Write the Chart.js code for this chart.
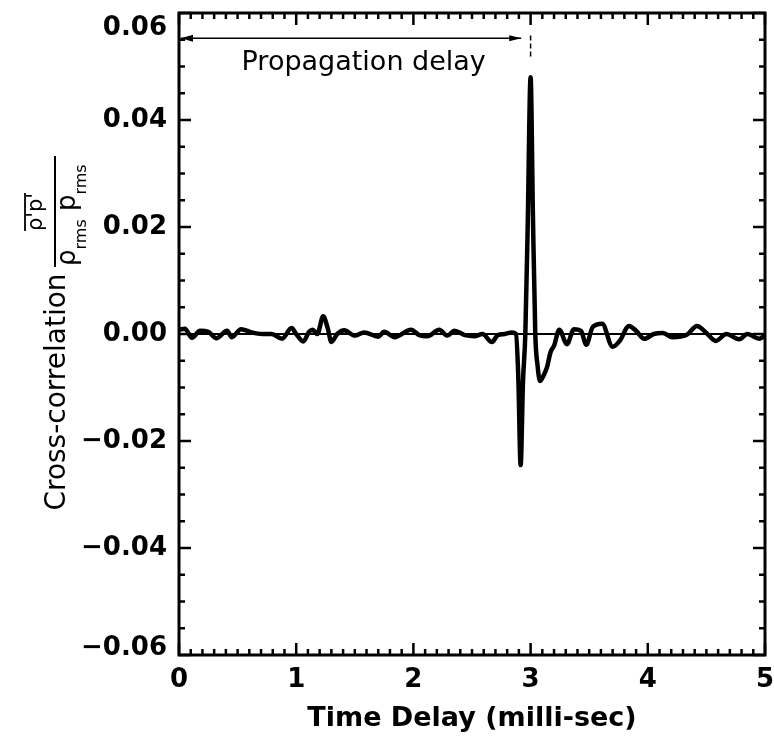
<!DOCTYPE html>
<html>
<head>
<meta charset="utf-8">
<script src="https://cdn.jsdelivr.net/npm/chart.js@4.4.1/dist/chart.umd.min.js"></script>
<style>
  html, body { margin: 0; padding: 0; background: #fff; }
  #wrap { width: 774px; height: 745px; position: relative; }
</style>
</head>
<body>
<div id="wrap"><canvas id="myChart"></canvas></div>
<script>
// time delay (milli-sec) vs normalised cross-correlation
let delays = [
  0.00, 0.05, 0.11, 0.18, 0.25, 0.32, 0.41, 0.45, 0.53, 0.62,
  0.71, 0.79, 0.88, 0.96, 1.00, 1.06, 1.11, 1.14, 1.18, 1.23,
  1.27, 1.30, 1.35, 1.41, 1.50, 1.58, 1.70, 1.75, 1.84, 1.98,
  2.05, 2.12, 2.22, 2.29, 2.35, 2.44, 2.52, 2.59, 2.67, 2.72,
  2.78, 2.84, 2.875, 2.895, 2.915, 2.935, 2.955, 2.975, 3.00, 3.02,
  3.04, 3.06, 3.08, 3.11, 3.14, 3.17, 3.20, 3.245, 3.31, 3.37,
  3.43, 3.475, 3.53, 3.61, 3.70, 3.76, 3.84, 3.90, 3.97, 4.05,
  4.13, 4.21, 4.33, 4.42, 4.50, 4.58, 4.67, 4.78, 4.85, 4.95,
  5.00
];
let corr = [
  0.0008, 0.0010, -0.0007, 0.0006, 0.0004, -0.0008, 0.0006, -0.0006, 0.0009, 0.0003,
  0.0000, 0.0000, -0.0009, 0.0011, 0.0000, -0.0014, 0.0004, 0.0008, 0.0000, 0.0033,
  0.0010, -0.0015, 0.0000, 0.0007, -0.0003, 0.0003, -0.0005, 0.0004, -0.0006, 0.0008,
  -0.0002, -0.0004, 0.0008, -0.0003, 0.0006, -0.0002, -0.0004, 0.0000, -0.0015, -0.0002,
  0.0000, 0.0003, 0.0000, -0.0080, -0.0245, -0.0090, 0.0000, 0.0200, 0.0480, 0.0220,
  0.0000, -0.0060, -0.0088, -0.0078, -0.0062, -0.0034, -0.0022, 0.0008, -0.0019, 0.0009,
  0.0006, -0.0020, 0.0013, 0.0019, -0.0024, -0.0013, 0.0015, 0.0006, -0.0009, 0.0000,
  0.0002, -0.0006, -0.0002, 0.0015, 0.0002, -0.0013, 0.0000, -0.0010, 0.0000, -0.0009,
  -0.0003
];

let xTickValues = [0, 1, 2, 3, 4, 5];
let yTickValues = [-0.06, -0.04, -0.02, 0.00, 0.02, 0.04, 0.06];

// propagation delay marker (x from/to in ms, y level)
let delayFrom = 0;
let delayTo = 2.92;
let delayLevel = 0.0553;
let delayMark = 3.0;

const FONT = '"DejaVu Sans", sans-serif';

//draws the frame, the inward ticks, the arrow and the y label
const decorations = {
  id: 'decorations',
  afterDatasetsDraw(chart) {
    const ctx = chart.ctx;
    const a = chart.chartArea;
    const x = chart.scales.x;
    const y = chart.scales.y;
    ctx.save();
    ctx.strokeStyle = '#000';
    ctx.fillStyle = '#000';

    // ticks on all four sides, pointing in
    ctx.lineWidth = 2.5;
    ctx.beginPath();
    for (let i = 0; i <= 50; i++) {
      const px = x.getPixelForValue(i / 10);
      const len = (i % 10 === 0) ? 12 : 6;
      ctx.moveTo(px, a.bottom); ctx.lineTo(px, a.bottom - len);
      ctx.moveTo(px, a.top); ctx.lineTo(px, a.top + len);
    }
    for (let i = -12; i <= 12; i++) {
      const py = y.getPixelForValue(i * 0.005);
      const len = (i % 4 === 0) ? 12 : 6;
      ctx.moveTo(a.left, py); ctx.lineTo(a.left + len, py);
      ctx.moveTo(a.right, py); ctx.lineTo(a.right - len, py);
    }
    ctx.stroke();

    // frame
    ctx.lineWidth = 3;
    ctx.strokeRect(a.left, a.top, a.right - a.left, a.bottom - a.top);

    // propagation delay arrow
    const ay = y.getPixelForValue(delayLevel);
    const ax0 = x.getPixelForValue(delayFrom) + 2;
    const ax1 = x.getPixelForValue(delayTo);
    ctx.lineWidth = 1.5;
    ctx.beginPath();
    ctx.moveTo(ax0, ay); ctx.lineTo(ax1, ay);
    ctx.stroke();
    ctx.beginPath();
    ctx.moveTo(ax0, ay); ctx.lineTo(ax0 + 12, ay - 3.5); ctx.lineTo(ax0 + 12, ay + 3.5); ctx.closePath();
    ctx.moveTo(ax1, ay); ctx.lineTo(ax1 - 12, ay - 3); ctx.lineTo(ax1 - 12, ay + 3); ctx.closePath();
    ctx.fill();

    // little dashed marker at the arrow end
    const mx = x.getPixelForValue(delayMark);
    ctx.setLineDash([5, 3]);
    ctx.beginPath();
    ctx.moveTo(mx, y.getPixelForValue(0.0558));
    ctx.lineTo(mx, y.getPixelForValue(0.0518));
    ctx.stroke();
    ctx.setLineDash([]);

    ctx.font = '27px ' + FONT;
    ctx.textAlign = 'center';
    ctx.textBaseline = 'alphabetic';
    ctx.fillText('Propagation delay', x.getPixelForValue(1.576), y.getPixelForValue(0.0493));

    // y axis label, rotated
    const cy = (a.top + a.bottom) / 2;
    ctx.translate(0, cy);
    ctx.rotate(-Math.PI / 2);
    ctx.font = '28px ' + FONT;
    ctx.textAlign = 'center';
    ctx.fillText('Cross-correlation', -58, 65);

    // fraction  rho'p' / rho_rms p_rms
    ctx.lineWidth = 2;
    ctx.beginPath();
    ctx.moveTo(67, 55); ctx.lineTo(178, 55);
    ctx.stroke();

    ctx.font = '21px ' + FONT;
    ctx.textAlign = 'left';
    const num = "\u03C1'p'";
    const nw = ctx.measureText(num).width;
    const n0 = 122 - nw / 2;
    ctx.fillText(num, n0, 42);
    ctx.lineWidth = 1.8;
    ctx.beginPath();
    ctx.moveTo(n0, 25); ctx.lineTo(n0 + nw, 25);
    ctx.stroke();

    let u = 68;
    const parts = [['\u03C1', 26, 75], ['rms', 16, 86], [' ', 26, 75], ['p', 26, 75], ['rms', 16, 86]];
    for (const p of parts) {
      ctx.font = p[1] + 'px ' + FONT;
      ctx.fillText(p[0], u, p[2]);
      u += ctx.measureText(p[0]).width;
    }
    ctx.restore();
  }
};

let data = {
  datasets: [{
    label: 'cross-correlation',
    data: delays.map((d, i) => ({ x: d, y: corr[i] })),
    borderColor: '#000',
    borderWidth: 4.5,
    pointRadius: 0,
    cubicInterpolationMode: 'monotone',
    fill: false
  }, {
    label: 'zero',
    data: [{ x: 0, y: 0 }, { x: 5, y: 0 }],
    borderColor: '#000',
    borderWidth: 2,
    pointRadius: 0,
    fill: false
  }]
};

// top and bottom labels sit a little inside the frame, like the original
function yTickFont(c) {
  const v = c.tick ? c.tick.value : 0;
  let lh = 1.2;
  if (Math.abs(v - 0.06) < 1e-9) lh = 30 / 26;
  if (Math.abs(v + 0.06) < 1e-9) lh = 14 / 26;
  return { family: FONT, size: 26, weight: 'bold', lineHeight: lh };
}

let config = {
  type: 'line',
  data: data,
  options: {
    responsive: true,
    maintainAspectRatio: false,
    animation: false,
    layout: { padding: { top: 13, right: 9, bottom: 0, left: 0 } },
    plugins: { legend: { display: false }, tooltip: { enabled: false } },
    scales: {
      x: {
        type: 'linear',
        min: 0, max: 5,
        grid: { display: false, drawTicks: false },
        border: { display: false },
        afterBuildTicks: s => { s.ticks = xTickValues.map(v => ({ value: v })); },
        afterFit: s => { s.height = 90; s.paddingLeft = 0; s.paddingRight = 0; },
        ticks: {
          color: '#000',
          padding: 10,
          maxRotation: 0,
          font: { family: FONT, size: 26, weight: 'bold' },
          callback: v => String(v)
        },
        title: {
          display: true,
          text: 'Time Delay (milli-sec)',
          color: '#000',
          font: { family: FONT, size: 27, weight: 'bold' },
          padding: { top: 0, bottom: 10 }
        }
      },
      y: {
        type: 'linear',
        min: -0.06, max: 0.06,
        grid: { display: false, drawTicks: false },
        border: { display: false },
        afterBuildTicks: s => { s.ticks = yTickValues.map(v => ({ value: v })); },
        afterFit: s => { s.width = 179; s.paddingTop = 0; s.paddingBottom = 0; },
        ticks: {
          color: '#000',
          padding: 12,
          font: yTickFont,
          callback: v => {
            if (Math.abs(v) < 1e-9) return '0.00';
            const s = (v < 0 ? '\u2212' : '') + Math.abs(v).toFixed(2);
            if (Math.abs(v - 0.06) < 1e-9) return ['', s];
            if (Math.abs(v + 0.06) < 1e-9) return [s, ''];
            return s;
          }
        }
      }
    }
  },
  plugins: [decorations]
};

let lineChart = new Chart(document.getElementById('myChart'), config);
</script>
</body>
</html>
